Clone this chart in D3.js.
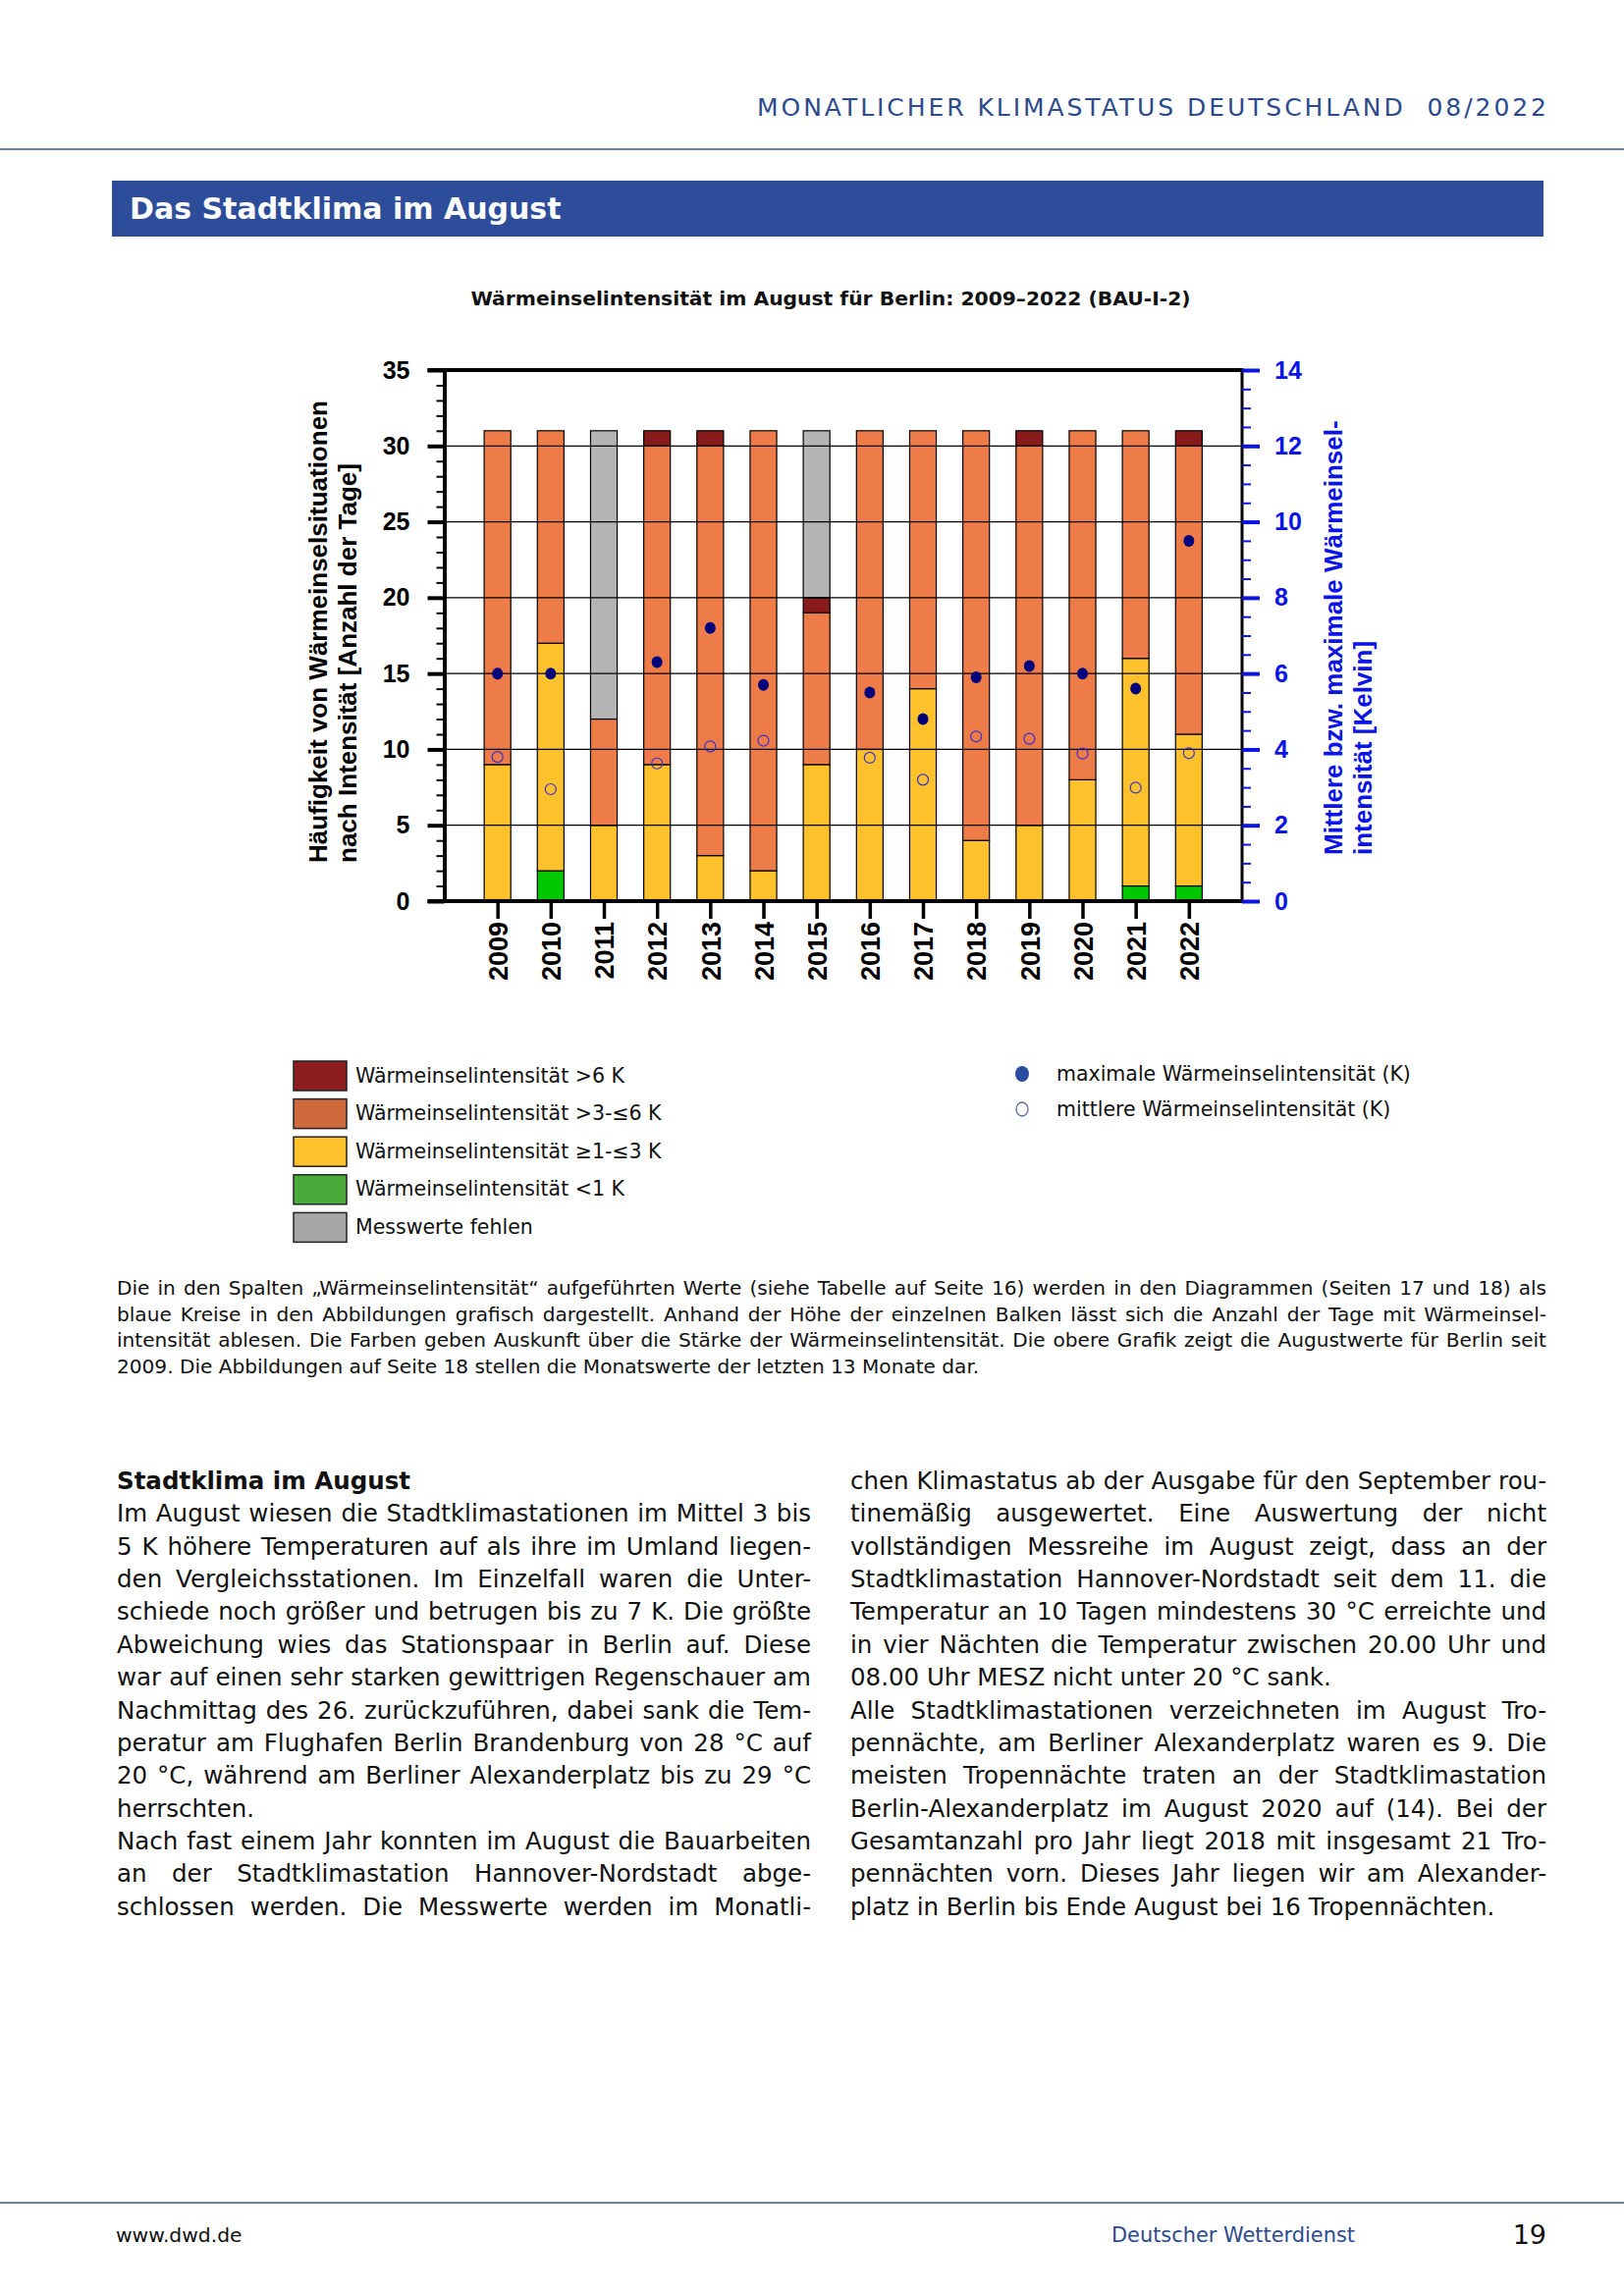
<!DOCTYPE html>
<html>
<head>
<meta charset="utf-8">
<script src="https://cdn.jsdelivr.net/npm/d3@7"></script>
<style>
  html, body { margin: 0; padding: 0; background: #fff; }
  svg { display: block; }
  text { white-space: pre; }
</style>
</head>
<body>
<script>
// ---------------- DATA ----------------
const years = [2009, 2010, 2011, 2012, 2013, 2014, 2015, 2016, 2017, 2018, 2019, 2020, 2021, 2022];
// days per intensity class (stacked bottom -> top)
const daysLt1   = [0, 2, 0, 0, 0, 0, 0, 0, 0, 0, 0, 0, 1, 1];
const days1to3  = [9, 15, 5, 9, 3, 2, 9, 10, 14, 4, 5, 8, 15, 10];
const days3to6  = [22, 14, 7, 21, 27, 29, 10, 21, 17, 27, 25, 23, 15, 19];
const daysGt6   = [0, 0, 0, 1, 1, 0, 1, 0, 0, 0, 1, 0, 0, 1];
const daysMissing = [0, 0, 19, 0, 0, 0, 11, 0, 0, 0, 0, 0, 0, 0];
// Kelvin (right axis)
const maxIntensity  = [6.0, 6.0, null, 6.3, 7.2, 5.7, null, 5.5, 4.8, 5.9, 6.2, 6.0, 5.6, 9.5];
const meanIntensity = [3.8, 2.95, null, 3.63, 4.08, 4.23, null, 3.78, 3.2, 4.34, 4.28, 3.89, 2.99, 3.9];

const leftTicks = [0, 5, 10, 15, 20, 25, 30, 35];
const rightTicks = [0, 2, 4, 6, 8, 10, 12, 14];

const seriesKeys = ["lt1", "1to3", "3to6", "gt6", "missing"];
const barColors = { lt1: "#00c800", "1to3": "#fdc12b", "3to6": "#ed7c48", gt6: "#8a1b1c", missing: "#b4b4b4" };
const legendLabels = ["Wärmeinselintensität >6 K", "Wärmeinselintensität >3-≤6 K", "Wärmeinselintensität ≥1-≤3 K", "Wärmeinselintensität <1 K", "Messwerte fehlen"];
const legendColors = ["#8c1c1e", "#cf6a3c", "#fec22c", "#4aab3a", "#a6a6a6"];
const dotLegendLabels = ["maximale Wärmeinselintensität (K)", "mittlere Wärmeinselintensität (K)"];

const chartTitle = "Wärmeinselintensität im August für Berlin: 2009–2022 (BAU-I-2)";
const leftTitle = ["Häufigkeit von Wärmeinselsituationen", "nach Intensität [Anzahl der Tage]"];
const rightTitle = ["Mittlere bzw. maximale Wärmeinsel-", "intensität [Kelvin]"];

const descLines = [
  "Die in den Spalten „Wärmeinselintensität“ aufgeführten Werte (siehe Tabelle auf Seite 16) werden in den Diagrammen (Seiten 17 und 18) als",
  "blaue Kreise in den Abbildungen grafisch dargestellt. Anhand der Höhe der einzelnen Balken lässt sich die Anzahl der Tage mit Wärmeinsel-",
  "intensität ablesen. Die Farben geben Auskunft über die Stärke der Wärmeinselintensität. Die obere Grafik zeigt die Augustwerte für Berlin seit",
  "2009. Die Abbildungen auf Seite 18 stellen die Monatswerte der letzten 13 Monate dar."
];
const leftCol = [
  ["Im August wiesen die Stadtklimastationen im Mittel 3 bis", true],
  ["5 K höhere Temperaturen auf als ihre im Umland liegen-", true],
  ["den Vergleichsstationen. Im Einzelfall waren die Unter-", true],
  ["schiede noch größer und betrugen bis zu 7 K. Die größte", true],
  ["Abweichung wies das Stationspaar in Berlin auf. Diese", true],
  ["war auf einen sehr starken gewittrigen Regenschauer am", true],
  ["Nachmittag des 26. zurückzuführen, dabei sank die Tem-", true],
  ["peratur am Flughafen Berlin Brandenburg von 28 °C auf", true],
  ["20 °C, während am Berliner Alexanderplatz bis zu 29 °C", true],
  ["herrschten.", false],
  ["Nach fast einem Jahr konnten im August die Bauarbeiten", true],
  ["an der Stadtklimastation Hannover-Nordstadt abge-", true],
  ["schlossen werden. Die Messwerte werden im Monatli-", true]
];
const rightCol = [
  ["chen Klimastatus ab der Ausgabe für den September rou-", true],
  ["tinemäßig ausgewertet. Eine Auswertung der nicht", true],
  ["vollständigen Messreihe im August zeigt, dass an der", true],
  ["Stadtklimastation Hannover-Nordstadt seit dem 11. die", true],
  ["Temperatur an 10 Tagen mindestens 30 °C erreichte und", true],
  ["in vier Nächten die Temperatur zwischen 20.00 Uhr und", true],
  ["08.00 Uhr MESZ nicht unter 20 °C sank.", false],
  ["Alle Stadtklimastationen verzeichneten im August Tro-", true],
  ["pennächte, am Berliner Alexanderplatz waren es 9. Die", true],
  ["meisten Tropennächte traten an der Stadtklimastation", true],
  ["Berlin-Alexanderplatz im August 2020 auf (14). Bei der", true],
  ["Gesamtanzahl pro Jahr liegt 2018 mit insgesamt 21 Tro-", true],
  ["pennächten vorn. Dieses Jahr liegen wir am Alexander-", true],
  ["platz in Berlin bis Ende August bei 16 Tropennächten.", false]
];

// ---------------- PAGE ----------------
const W = 1654, H = 2339;
const svg = d3.select("body").append("svg").attr("width", W).attr("height", H)
  .attr("font-family", "'DejaVu Sans', sans-serif");
svg.append("rect").attr("width", W).attr("height", H).attr("fill", "#fff");

const pageBlue = "#2c4a8c";
svg.append("text").attr("x", 771).attr("y", 118).attr("font-size", 25).attr("fill", pageBlue)
  .attr("textLength", 804).attr("lengthAdjust", "spacing")
  .text("MONATLICHER KLIMASTATUS DEUTSCHLAND\u00A0\u00A008/2022");
svg.append("line").attr("x1", 0).attr("x2", W).attr("y1", 152).attr("y2", 152)
  .attr("stroke", "#3b5285").attr("stroke-width", 1.5);

svg.append("rect").attr("x", 114).attr("y", 184).attr("width", 1458).attr("height", 57).attr("fill", "#2d4d9b");
svg.append("text").attr("x", 132).attr("y", 223).attr("font-size", 30).attr("font-weight", "bold")
  .attr("fill", "#fff").text("Das Stadtklima im August");

svg.append("text").attr("x", 846).attr("y", 311).attr("text-anchor", "middle").attr("font-size", 20.3)
  .attr("font-weight", "bold").attr("fill", "#111").text(chartTitle);

// ---------------- CHART ----------------
const plotL = 452.5, plotR = 1265, plotT = 377, plotB = 918;
const x = d3.scalePoint().domain(years).range([plotL, plotR]).padding(1);
const yL = d3.scaleLinear().domain([0, 35]).range([plotB, plotT]);
const yR = d3.scaleLinear().domain([0, 14]).range([plotB, plotT]);
const barW = x.step() * 0.5;

const table = years.map((yr, i) => ({
  year: yr, lt1: daysLt1[i], "1to3": days1to3[i], "3to6": days3to6[i], gt6: daysGt6[i], missing: daysMissing[i],
  maxK: maxIntensity[i], meanK: meanIntensity[i]
}));
const stacked = d3.stack().keys(seriesKeys)(table);

const chart = svg.append("g").attr("font-family", "'Liberation Sans', Arial, sans-serif");

chart.append("g").selectAll("g").data(stacked).join("g")
  .attr("fill", d => barColors[d.key])
  .selectAll("rect").data(d => d.filter(s => s[1] - s[0] > 0)).join("rect")
  .attr("x", d => x(d.data.year) - barW / 2)
  .attr("width", barW)
  .attr("y", d => yL(d[1]))
  .attr("height", d => yL(d[0]) - yL(d[1]))
  .attr("stroke", "#000").attr("stroke-width", 1.2);

// gridlines (drawn over bars)
chart.append("g").selectAll("line").data(leftTicks.filter(t => t > 0 && t < 35)).join("line")
  .attr("x1", plotL).attr("x2", plotR).attr("y1", d => yL(d)).attr("y2", d => yL(d))
  .attr("stroke", "#000").attr("stroke-width", 1.3);

// top frame
chart.append("line").attr("x1", plotL - 17).attr("x2", plotR).attr("y1", plotT).attr("y2", plotT)
  .attr("stroke", "#000").attr("stroke-width", 4);

// left axis minor ticks
const minorL = chart.append("g").attr("transform", `translate(${plotL},0)`)
  .call(d3.axisLeft(yL).tickValues(d3.range(0, 36, 1)).tickSize(8).tickFormat(""));
minorL.selectAll("line").attr("stroke-width", 2);
minorL.select(".domain").remove();
// left axis major
const axL = chart.append("g").attr("transform", `translate(${plotL},0)`)
  .call(d3.axisLeft(yL).tickValues(leftTicks).tickSize(17).tickPadding(18).tickSizeOuter(0));
axL.select(".domain").attr("stroke-width", 4);
axL.selectAll("line").attr("stroke-width", 4);
axL.selectAll("text").attr("font-size", 25).attr("font-weight", "bold").attr("fill", "#000");

// right axis
const blue = "#0a14e6";
chart.append("line").attr("x1", plotR).attr("x2", plotR).attr("y1", plotT - 2).attr("y2", plotB + 2)
  .attr("stroke", "#000").attr("stroke-width", 3);
const minorR = chart.append("g").attr("transform", `translate(${plotR},0)`)
  .call(d3.axisRight(yR).tickValues(d3.range(0, 14.01, 0.5)).tickSize(9).tickFormat(""));
minorR.selectAll("line").attr("stroke", blue).attr("stroke-width", 2);
minorR.select(".domain").remove();
const axR = chart.append("g").attr("transform", `translate(${plotR},0)`)
  .call(d3.axisRight(yR).tickValues(rightTicks).tickSize(18).tickPadding(15));
axR.select(".domain").remove();
axR.selectAll("line").attr("stroke", blue).attr("stroke-width", 4);
axR.selectAll("text").attr("font-size", 25).attr("font-weight", "bold").attr("fill", blue);

// bottom axis
const axB = chart.append("g").attr("transform", `translate(0,${plotB})`)
  .call(d3.axisBottom(x).tickSize(18).tickSizeOuter(0));
axB.select(".domain").attr("d", `M${plotL - 17},0H${plotR}`).attr("stroke-width", 4);
axB.selectAll("line").attr("stroke-width", 3.5);
axB.selectAll("text")
  .attr("font-size", 27).attr("font-weight", "bold").attr("fill", "#000")
  .attr("text-anchor", "end").attr("y", 0).attr("dy", "0.36em")
  .attr("transform", "translate(0,21) rotate(-90)");

// dots
chart.append("g").selectAll("circle").data(table.filter(d => d.meanK != null)).join("circle")
  .attr("cx", d => x(d.year)).attr("cy", d => yR(d.meanK)).attr("r", 5.5)
  .attr("fill", "none").attr("stroke", "#3a2fd0").attr("stroke-width", 1.2);
chart.append("g").selectAll("ellipse").data(table.filter(d => d.maxK != null)).join("ellipse")
  .attr("cx", d => x(d.year)).attr("cy", d => yR(d.maxK)).attr("rx", 5.5).attr("ry", 6)
  .attr("fill", "#00007d");

// axis titles
const lt = chart.append("text").attr("transform", "translate(0,879) rotate(-90)")
  .attr("font-size", 26).attr("font-weight", "bold").attr("fill", "#000");
lt.selectAll("tspan").data(leftTitle).join("tspan").attr("x", 0).attr("y", (d, i) => 333 + i * 30).text(d => d);
const rt = chart.append("text").attr("transform", "translate(0,871) rotate(-90)")
  .attr("font-size", 26).attr("font-weight", "bold").attr("fill", blue);
rt.selectAll("tspan").data(rightTitle).join("tspan").attr("x", 0).attr("y", (d, i) => 1367 + i * 30).text(d => d);

// ---------------- LEGEND ----------------
const leg = svg.append("g");
legendLabels.forEach((lab, i) => {
  const y0 = 1081 + i * 38.6;
  leg.append("rect").attr("x", 299).attr("y", y0).attr("width", 54).attr("height", 30)
    .attr("fill", legendColors[i]).attr("stroke", "#222").attr("stroke-width", 1.5);
  leg.append("text").attr("x", 362).attr("y", y0 + 21.5).attr("font-size", 20.5).attr("fill", "#111").text(lab);
});
leg.append("ellipse").attr("cx", 1041).attr("cy", 1094).attr("rx", 7).attr("ry", 8).attr("fill", "#2a4ca0");
leg.append("ellipse").attr("cx", 1041).attr("cy", 1130).attr("rx", 6).attr("ry", 7)
  .attr("fill", "none").attr("stroke", "#5a6aa0").attr("stroke-width", 1.3);
dotLegendLabels.forEach((lab, i) => {
  leg.append("text").attr("x", 1076).attr("y", 1101 + i * 36).attr("font-size", 20.5).attr("fill", "#111").text(lab);
});

// ---------------- TEXT ----------------
function justifiedLine(parent, str, xPos, yPos, width, fs, justify, weight) {
  const t = parent.append("text").attr("x", xPos).attr("y", yPos).attr("font-size", fs).attr("fill", "#111").text(str);
  if (weight) t.attr("font-weight", weight);
  if (justify) {
    const w = t.node().getComputedTextLength();
    const n = (str.match(/ /g) || []).length;
    if (n > 0) t.attr("word-spacing", (width - w) / n);
  }
  return t;
}
const txt = svg.append("g");
descLines.forEach((ln, i) => justifiedLine(txt, ln, 119, 1319 + i * 26.5, 1456, 20.1, i < 3));

const lh = 33.37, base = 1517;
justifiedLine(txt, "Stadtklima im August", 119, base, 707, 24.5, false, "bold");
leftCol.forEach((ln, i) => justifiedLine(txt, ln[0], 119, base + (i + 1) * lh, 707, 24.5, ln[1]));
rightCol.forEach((ln, i) => justifiedLine(txt, ln[0], 866, base + i * lh, 709, 24.5, ln[1]));

// ---------------- FOOTER ----------------
svg.append("line").attr("x1", 0).attr("x2", W).attr("y1", 2244).attr("y2", 2244)
  .attr("stroke", "#3b5285").attr("stroke-width", 1.5);
svg.append("text").attr("x", 118).attr("y", 2284).attr("font-size", 20.3).attr("fill", "#111").text("www.dwd.de");
svg.append("text").attr("x", 1132).attr("y", 2284).attr("font-size", 20.9).attr("fill", pageBlue).text("Deutscher Wetterdienst");
svg.append("text").attr("x", 1575).attr("y", 2286).attr("text-anchor", "end").attr("font-size", 27).attr("fill", "#111").text("19");
</script>
</body>
</html>
